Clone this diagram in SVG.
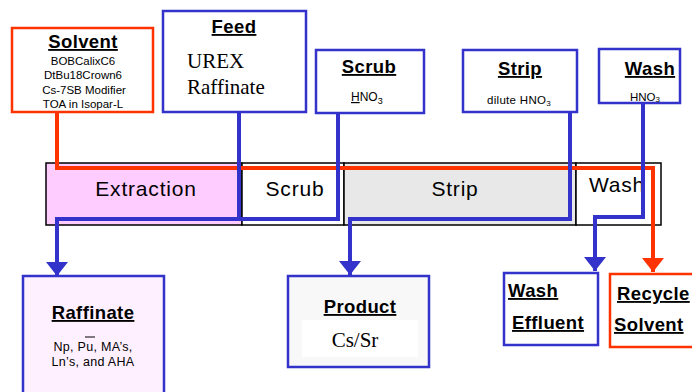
<svg xmlns="http://www.w3.org/2000/svg" width="692" height="392" viewBox="0 0 692 392">
<defs>
<style>
.s{font-family:"Liberation Sans",Arial,sans-serif;fill:#000}
.r{font-family:"Liberation Serif","Times New Roman",serif;fill:#000}
.h{font-weight:bold;font-size:18.5px;letter-spacing:0.4px;text-decoration:underline}
.bx{fill:#fff;stroke:#3333CC;stroke-width:2.5}
.rbx{fill:#fff;stroke:#FF3300;stroke-width:2.5}
.cell{stroke:#000;stroke-width:1.5}
.big{font-size:21px;letter-spacing:0.8px}
.bl{fill:none;stroke:#3333CC;stroke-width:4}
.rl{fill:none;stroke:#FF3300;stroke-width:4}
</style>
<marker id="ab" viewBox="0 0 14 22" refX="14" refY="11" markerWidth="14" markerHeight="22" markerUnits="userSpaceOnUse" orient="auto">
<path d="M0,0 L14,11 L0,22 Z" fill="#3333CC"/>
</marker>
<marker id="ar" viewBox="0 0 14 22" refX="14" refY="11" markerWidth="14" markerHeight="22" markerUnits="userSpaceOnUse" orient="auto">
<path d="M0,0 L14,11 L0,22 Z" fill="#FF3300"/>
</marker>
</defs>
<rect width="692" height="392" fill="#fff"/>

<g id="solvent">
<rect class="rbx" x="12" y="28" width="141" height="84"/>
<text class="s h" x="83" y="48" text-anchor="middle">Solvent</text>
<text class="s" font-size="11.5" text-anchor="middle"><tspan x="83" y="65">BOBCalixC6</tspan><tspan x="83" y="79">DtBu18Crown6</tspan><tspan x="84" y="94">Cs-7SB Modifier</tspan><tspan x="83" y="108">TOA in Isopar-L</tspan></text>
</g>

<g id="feed">
<rect class="bx" x="163" y="11" width="143" height="101"/>
<text class="s h" x="234" y="33" text-anchor="middle">Feed</text>
<text class="r" font-size="21"><tspan x="187" y="68">UREX</tspan><tspan x="187" y="94">Raffinate</tspan></text>
</g>

<g id="scrub">
<rect class="bx" x="316" y="50" width="108" height="63"/>
<text class="s h" x="369" y="73" text-anchor="middle">Scrub</text>
<text class="s" font-size="12" x="351" y="101"><tspan text-decoration="underline">H</tspan>NO<tspan font-size="9" dy="3">3</tspan></text>
</g>

<g id="strip">
<rect class="bx" x="463" y="50" width="114" height="62"/>
<text class="s h" x="520" y="75" text-anchor="middle">Strip</text>
<text class="s" font-size="11.5" letter-spacing="0.3" x="487" y="104">dilute HNO<tspan font-size="8" dy="2">3</tspan></text>
</g>

<g id="wash">
<rect class="bx" x="599" y="49" width="81" height="54"/>
<text class="s h" x="650" y="75" text-anchor="middle">Wash</text>
<text class="s" font-size="11.5" x="630" y="101">HNO<tspan font-size="8" dy="1">3</tspan></text>
</g>

<g id="contactors">
<rect class="cell" x="46" y="163" width="196" height="62" fill="#FFCCFF"/>
<rect class="cell" x="242" y="163" width="102" height="62" fill="#fff"/>
<rect class="cell" x="344" y="163" width="232" height="62" fill="#E8E8E8"/>
<rect class="cell" x="576" y="163" width="85" height="62" fill="#fff"/>
<text class="s big" x="146" y="196" text-anchor="middle">Extraction</text>
<text class="s big" x="295" y="196" text-anchor="middle">Scrub</text>
<text class="s big" x="455" y="196" text-anchor="middle">Strip</text>
<text class="s big" x="589" y="192">Wash</text>
</g>

<g id="raffinate">
<rect x="23" y="276" width="141" height="130" fill="#FFF0FF" stroke="#3333CC" stroke-width="2.5"/>
<text class="s h" x="93" y="319" text-anchor="middle">Raffinate</text>
<line x1="85" y1="337" x2="95" y2="337" stroke="#000" stroke-width="1"/>
<text class="s" font-size="12.5" letter-spacing="0.3" text-anchor="middle"><tspan x="93" y="351">Np, Pu, MA’s,</tspan><tspan x="93" y="366">Ln’s, and AHA</tspan></text>
</g>

<g id="product">
<rect x="288" y="276" width="141" height="91" fill="#F8F8F8" stroke="#3333CC" stroke-width="2.5"/>
<text class="s h" x="360" y="313" text-anchor="middle">Product</text>
<rect x="302" y="320" width="116" height="37" fill="#fff"/>
<text class="r" font-size="21" x="355" y="347" text-anchor="middle">Cs/Sr</text>
</g>

<g id="wash-effluent">
<rect class="bx" x="504" y="273" width="94" height="72"/>
<text class="s h" x="508" y="297">Wash</text>
<text class="s h" x="512" y="329">Effluent</text>
</g>

<g id="recycle-solvent">
<rect class="rbx" x="610" y="274" width="90" height="73"/>
<text class="s h" x="617" y="300">Recycle</text>
<text class="s h" x="614" y="331">Solvent</text>
</g>

<g id="connectors">
<path class="rl" d="M57,112 V168 H653 V272" marker-end="url(#ar)"/>
<path class="bl" d="M239,112 V219"/>
<path class="bl" d="M338,113 V219 H57 V276" marker-end="url(#ab)"/>
<path class="bl" d="M570,112 V219 H350 V275" marker-end="url(#ab)"/>
<path class="bl" d="M643,103 V217 H595 V271" marker-end="url(#ab)"/>
</g>
</svg>
